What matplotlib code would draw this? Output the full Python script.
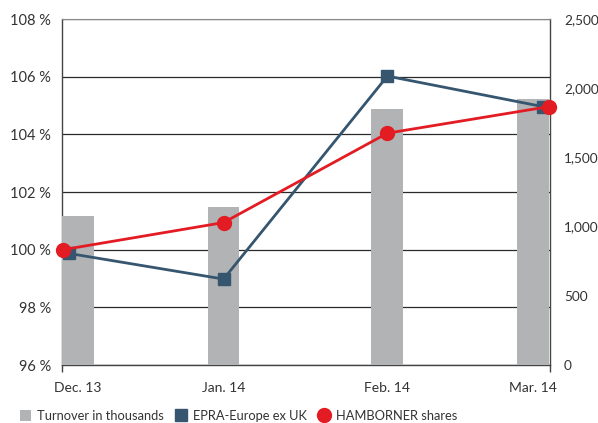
import matplotlib
matplotlib.use("Agg")
import matplotlib.pyplot as plt
from matplotlib.lines import Line2D
from matplotlib.patches import Patch

categories = ["Dec. 13", "Jan. 14", "Feb. 14", "Mar. 14"]
turnover = [1080, 1145, 1850, 1925]          # thousands (right axis)
epra = [99.87, 98.98, 106.02, 104.96]        # % (left axis)
hamborner = [100.0, 100.94, 104.04, 104.96]  # % (left axis)
left_ticks = [96, 98, 100, 102, 104, 106, 108]
right_ticks = [0, 500, 1000, 1500, 2000, 2500]

bar_pos = [0, 0.96, 2.04, 3]
epra_pos = [-0.06, 0.96, 2.04, 3.066]
ham_pos = [-0.097, 0.96, 2.04, 3.103]

plt.rcParams['font.family'] = ['Lato', 'DejaVu Sans']
txt = '#333333'
grey_bar = '#b2b3b5'
navy = '#365670'
red = '#e31b23'

fig = plt.figure(figsize=(5.98, 4.23), dpi=100)
ax = fig.add_axes([62/598, 1-365/423, 488/598, 346/423])
xmin, xmax = -0.105, 3.112

ax.set_xlim(xmin, xmax)
ax.set_ylim(96, 108)
ax.set_yticks(left_ticks)
ax.set_yticklabels([f"{t} %" for t in left_ticks], color=txt, fontsize=10.5)
ax.tick_params(axis='y', length=0, pad=8)
ax.grid(axis='y', color='#2a2a2a', linewidth=0.9)
ax.set_axisbelow(True)
ax.set_xticks(bar_pos)
ax.set_xticklabels(categories, color=txt, fontsize=10)
ax.tick_params(axis='x', length=0, pad=12)
ax.set_xticks([xmin, xmax], minor=True)
ax.tick_params(axis='x', which='minor', length=5, width=1, color='#444444')
for s in ['left', 'bottom', 'right']:
    ax.spines[s].set_color('#444444')
    ax.spines[s].set_linewidth(1)
ax.spines['top'].set_color('#888888')

axb = ax.twinx()
axb.set_ylim(0, 2500)
axb.bar(bar_pos, turnover, width=0.21, color=grey_bar, zorder=2)
axb.set_yticks(right_ticks)
axb.set_yticklabels([f"{t:,}" for t in right_ticks], color=txt, fontsize=9.8)
axb.tick_params(axis='y', length=0, pad=10)
for s in axb.spines.values():
    s.set_visible(False)

axl = ax.twinx()
axl.set_ylim(96, 108)
axl.set_yticks([])
for s in axl.spines.values():
    s.set_visible(False)
axl.plot(epra_pos, epra, color=navy, linewidth=2, marker='s', markersize=8.5,
         zorder=3, clip_on=False)
axl.plot(ham_pos, hamborner, color=red, linewidth=2, marker='o', markersize=10,
         zorder=4, clip_on=False)
axl.set_xlim(xmin, xmax)

handles = [
    Patch(facecolor=grey_bar, edgecolor='none'),
    Line2D([], [], linestyle='none', marker='s', color=navy, markersize=9),
    Line2D([], [], linestyle='none', marker='o', color=red, markersize=10),
]
labels = ["Turnover in thousands", "EPRA-Europe ex UK", "HAMBORNER shares"]
fig.legend(handles, labels, loc='center left', bbox_to_anchor=(20/598, 1-416/423),
           ncol=3, frameon=False, fontsize=9.3, handlelength=0.85, handleheight=0.85,
           handletextpad=0.5, columnspacing=0.9, labelcolor=txt, borderaxespad=0, borderpad=0)

fig.savefig("out.png", dpi=100)
